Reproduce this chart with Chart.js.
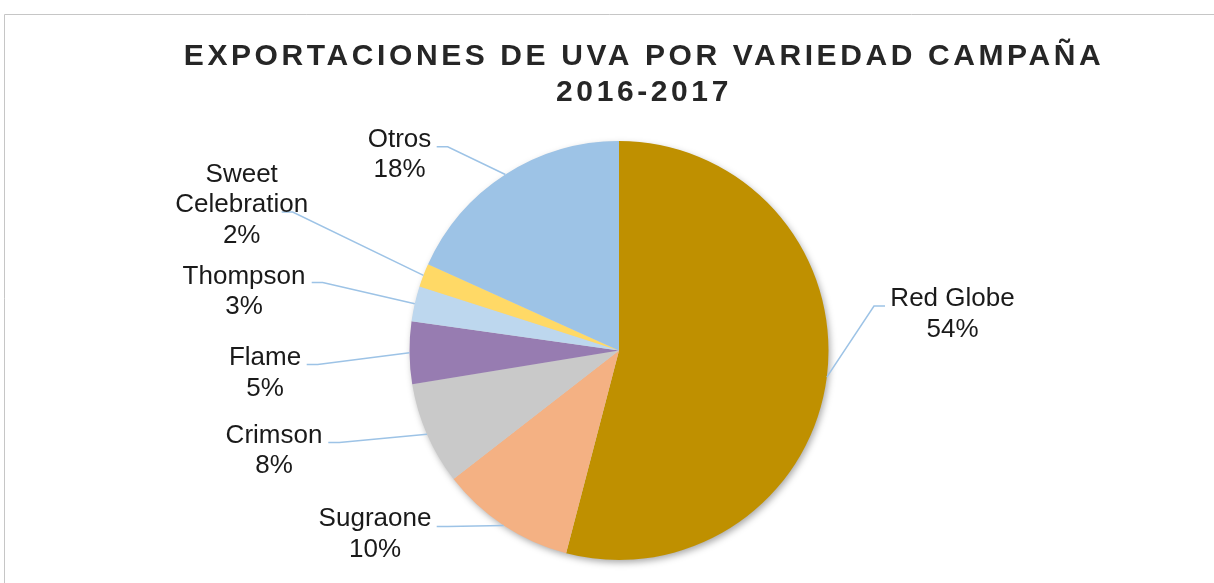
<!DOCTYPE html>
<html>
<head>
<meta charset="utf-8">
<script src="https://cdn.jsdelivr.net/npm/chart.js@4.4.1/dist/chart.umd.min.js"></script>
<style>
html,body{margin:0;padding:0;background:#ffffff;}
canvas{display:block;}
</style>
</head>
<body>
<canvas id="c" width="1214" height="583"></canvas>
<script>
// ---- data ----
const titleLines = ['EXPORTACIONES DE UVA POR VARIEDAD CAMPAÑA', '2016-2017'];
const categories = ['Red Globe', 'Sugraone', 'Crimson', 'Flame', 'Thompson', 'Sweet Celebration', 'Otros'];
const shares = [53.9, 10.4, 7.9, 4.8, 2.7, 1.8, 18.2];
const labelLines = [['Red Globe'], ['Sugraone'], ['Crimson'], ['Flame'], ['Thompson'], ['Sweet', 'Celebration'], ['Otros']];

// ---- styles / layout ----
const sliceColors = ['#BF9000', '#F4B183', '#C9C9C9', '#977CB1', '#BDD7EE', '#FFD966', '#9DC3E6'];
const leaderColor = '#9DC3E6';
const textColor = '#1a1a1a';
const labelFont = '26px "Liberation Sans", Arial, sans-serif';
const titleFont = 'bold 30px "Liberation Sans", Arial, sans-serif';
// label placement relative to the pie centre: text centre x / first baseline y, leader start
const labelLayout = [
  {tx: 333.5, ty: -44.5, lx: 266, ly: -44.5},
  {tx: -244, ty: 175.5, lx: -182.3, ly: 176},
  {tx: -345, ty: 92, lx: -290.7, ly: 92},
  {tx: -354, ty: 14.5, lx: -312.3, ly: 14},
  {tx: -375, ty: -67, lx: -307.3, ly: -68},
  {tx: -377.3, ty: -168.8, lx: -337.3, ly: -138.5},
  {tx: -219.5, ty: -203.8, lx: -182.3, ly: -203.8}
];

const total = shares.reduce((a, b) => a + b, 0);

const decorPlugin = {
  id: 'decor',
  beforeDraw(chart) {
    const ctx = chart.ctx;
    ctx.save();
    ctx.fillStyle = '#ffffff';
    ctx.fillRect(0, 0, chart.width, chart.height);
    // frame
    ctx.strokeStyle = '#c6c6c6';
    ctx.lineWidth = 1;
    ctx.beginPath();
    ctx.moveTo(4.5, chart.height);
    ctx.lineTo(4.5, 14.5);
    ctx.lineTo(chart.width, 14.5);
    ctx.stroke();
    // title
    ctx.fillStyle = '#262626';
    ctx.font = titleFont;
    ctx.textAlign = 'center';
    ctx.textBaseline = 'alphabetic';
    ctx.letterSpacing = '3.6px';
    ctx.fillText(titleLines[0], 644, 65);
    ctx.fillText(titleLines[1], 644, 101);
    ctx.restore();
  },
  beforeDatasetsDraw(chart) {
    const arc = chart.getDatasetMeta(0).data[0];
    if (!arc) return;
    const ctx = chart.ctx;
    ctx.save();
    ctx.shadowColor = 'rgba(0,0,0,0.35)';
    ctx.shadowBlur = 7;
    ctx.shadowOffsetX = 2;
    ctx.shadowOffsetY = 3;
    ctx.fillStyle = '#d0d0d0';
    ctx.beginPath();
    ctx.arc(arc.x, arc.y, arc.outerRadius - 0.5, 0, Math.PI * 2);
    ctx.fill();
    ctx.restore();
  },
  afterDatasetsDraw(chart) {
    const ctx = chart.ctx;
    const meta = chart.getDatasetMeta(0);
    ctx.save();
    meta.data.forEach((arc, i) => {
      const L = labelLayout[i];
      const cx = arc.x, cy = arc.y;
      const mid = (arc.startAngle + arc.endAngle) / 2;
      const ex = cx + Math.cos(mid) * arc.outerRadius;
      const ey = cy + Math.sin(mid) * arc.outerRadius;
      const sx = cx + L.lx, sy = cy + L.ly;
      const dir = L.lx < 0 ? 1 : -1;
      ctx.strokeStyle = leaderColor;
      ctx.lineWidth = 1.5;
      ctx.beginPath();
      ctx.moveTo(sx, sy);
      ctx.lineTo(sx + dir * 11, sy);
      ctx.lineTo(ex, ey);
      ctx.stroke();
      // text
      ctx.fillStyle = textColor;
      ctx.font = labelFont;
      ctx.textAlign = 'center';
      ctx.textBaseline = 'alphabetic';
      const lines = labelLines[i].concat([Math.round(shares[i] / total * 100) + '%']);
      lines.forEach((t, k) => {
        ctx.fillText(t, cx + L.tx, cy + L.ty + k * 30.5);
      });
    });
    ctx.restore();
  }
};

new Chart(document.getElementById('c'), {
  type: 'pie',
  data: {
    labels: categories,
    datasets: [{
      data: shares,
      backgroundColor: sliceColors,
      borderWidth: 0,
      hoverOffset: 0,
      offset: 0
    }]
  },
  options: {
    responsive: false,
    devicePixelRatio: 1,
    animation: false,
    layout: {padding: {top: 141, bottom: 23, left: 200, right: 176}},
    plugins: {
      legend: {display: false},
      tooltip: {enabled: false},
      title: {display: false}
    },
    events: []
  },
  plugins: [decorPlugin]
});
</script>
</body>
</html>
